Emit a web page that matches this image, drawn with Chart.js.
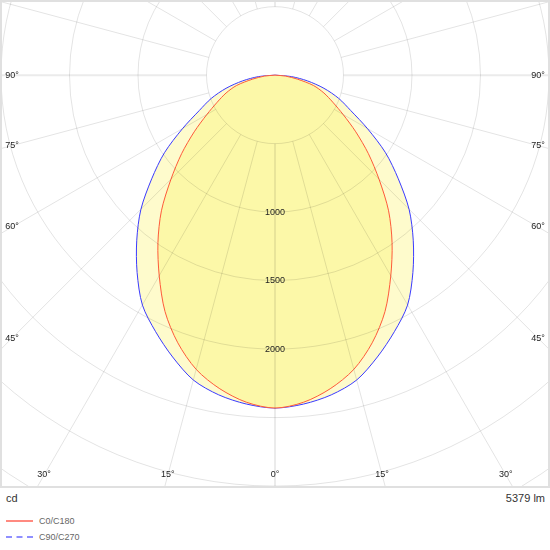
<!DOCTYPE html>
<html>
<head>
<meta charset="utf-8">
<script src="https://cdn.jsdelivr.net/npm/chart.js@4"></script>
<style>
  html,body{margin:0;padding:0;background:#fff;}
  #wrap{position:relative;width:550px;height:550px;font-family:"Liberation Sans",Arial,sans-serif;}
  #box{position:absolute;left:0;top:0;width:550px;height:488px;}
  .t{position:absolute;color:#333;font-size:11px;line-height:12px;}
  .lg{position:absolute;left:39px;color:#666;font-size:9px;line-height:10px;}
  .sw{position:absolute;left:6px;width:27px;height:0;}
</style>
</head>
<body>
<div id="wrap">
  <div id="box"><canvas id="c"></canvas></div>
  <div class="t" style="left:6px;top:492px;">cd</div>
  <div class="t" style="right:5px;top:492px;">5379 lm</div>
  <div class="sw" style="top:520px;border-top:2px solid #ff8a80;"></div>
  <div class="lg" style="top:516px;">C0/C180</div>
  <div class="sw" style="top:536px;border-top:2px dashed #8f8fff;"></div>
  <div class="lg" style="top:532px;">C90/C270</div>
</div>
<script>
// gamma angles (deg from nadir)
const angles = [0,5,10,15,20,25,30,35,40,45,50,55,60,65,70,75,80,85,90];
// luminous intensity (cd)
const c0c180  = [2425,2392,2320,2220,2075,1900,1690,1490,1290,1075,890,720,575,465,380,290,165,75,0];
const c90c270 = [2425,2405,2365,2300,2185,2062,1935,1755,1570,1385,1175,985,780,610,495,370,240,120,0];
// grid
const ringValues = [500,1000,1500,2000,2500,3000,3500,4000];
const ringLabels = [1000,1500,2000];
const spokeAngles = [0,15,30,45,60,75,90,105,120,135,150,165,180,195,210,225,240,255,270,285,300,315,330,345];
const angleLabels = [0,15,30,45,60,75,90];

function curve(vals){
  const pts = [];
  for (let i = angles.length-1; i >= 0; i--){
    const a = angles[i]*Math.PI/180;
    pts.push({x:-vals[i]*Math.sin(a), y:-vals[i]*Math.cos(a)});
  }
  for (let i = 1; i < angles.length; i++){
    const a = angles[i]*Math.PI/180;
    pts.push({x:vals[i]*Math.sin(a), y:-vals[i]*Math.cos(a)});
  }
  return pts;
}

const gridPlugin = {
  id:'polarGrid',
  afterDatasetsDraw(chart){
    const {ctx, chartArea:ca, scales:{x, y}} = chart;
    const cx = x.getPixelForValue(0), cy = y.getPixelForValue(0);
    const k = x.getPixelForValue(1000) - cx; // px per 1000 cd
    ctx.save();
    ctx.beginPath(); ctx.rect(ca.left, ca.top, ca.right-ca.left, ca.bottom-ca.top); ctx.clip();
    ctx.strokeStyle = 'rgba(0,0,0,0.11)';
    ctx.lineWidth = 1;
    ringValues.forEach(v=>{
      ctx.beginPath(); ctx.arc(cx, cy, v*k/1000, 0, Math.PI*2); ctx.stroke();
    });
    const r0 = ringValues[0]*k/1000, r1 = 6000*k/1000;
    spokeAngles.forEach(a=>{
      const t = a*Math.PI/180, dx = Math.sin(t), dy = Math.cos(t);
      ctx.lineWidth = (a % 90 === 0) ? 2 : 1;
      ctx.strokeStyle = (a % 90 === 0) ? 'rgba(0,0,0,0.08)' : 'rgba(0,0,0,0.11)';
      ctx.beginPath(); ctx.moveTo(cx+dx*r0, cy+dy*r0); ctx.lineTo(cx+dx*r1, cy+dy*r1); ctx.stroke();
    });
    ctx.font = '9px "Liberation Sans", Arial, sans-serif';
    ctx.fillStyle = '#222';
    ctx.textAlign = 'center'; ctx.textBaseline = 'middle';
    ringLabels.forEach(v=>{ ctx.fillText(String(v), cx, cy + v*k/1000); });
    const insetX = 12, insetB = 13;
    angleLabels.forEach(a=>{
      const t = a*Math.PI/180, s = Math.sin(t), c = Math.cos(t);
      const tb = c > 1e-6 ? (ca.bottom - insetB - cy)/c : Infinity;
      [-1,1].forEach(side=>{
        if (a === 0 && side === 1) return;
        const ts = s > 1e-6 ? (side<0 ? (cx - ca.left - insetX) : (ca.right - insetX - cx))/s : Infinity;
        const tt = Math.min(tb, ts);
        ctx.fillText(a + '°', cx + side*s*tt, cy + c*tt);
      });
    });
    ctx.restore();
    ctx.save();
    ctx.strokeStyle = '#e0e0e0'; ctx.lineWidth = 2;
    ctx.strokeRect(ca.left+1, ca.top+1, ca.right-ca.left-2, ca.bottom-ca.top-2);
    ctx.restore();
  }
};

new Chart(document.getElementById('c'), {
  type:'scatter',
  data:{datasets:[
    {label:'C0/C180', data:curve(c0c180), showLine:true, fill:'shape', order:1,
     borderColor:'#ff5a3a', backgroundColor:'#fcf8a8', borderWidth:1, pointRadius:0, tension:0.3},
    {label:'C90/C270', data:curve(c90c270), showLine:true, fill:'shape', order:2,
     borderColor:'#3a3aff', backgroundColor:'#fefbcc', borderWidth:1, pointRadius:0, tension:0.3}
  ]},
  options:{
    responsive:true, maintainAspectRatio:false, animation:false,
    layout:{padding:0},
    plugins:{legend:{display:false}, tooltip:{enabled:false}},
    scales:{
      x:{type:'linear', min:-2007.5, max:2007.5, display:false},
      y:{type:'linear', min:-3007.6, max:547.5, display:false}
    }
  },
  plugins:[gridPlugin]
});
</script>
</body>
</html>
